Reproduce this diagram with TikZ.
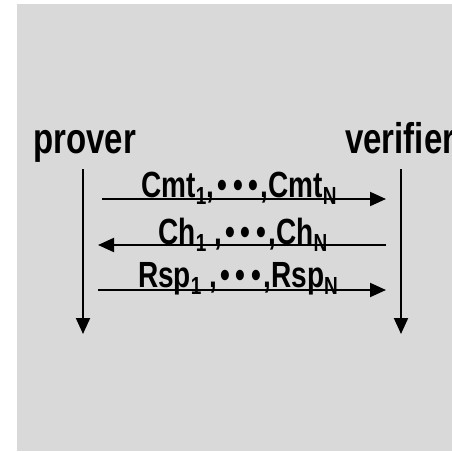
\documentclass[tikz,border=0pt]{standalone}
\usepackage{fontspec}
\setmainfont{Liberation Sans}
\usetikzlibrary{arrows.meta}

\newcommand{\tall}[1]{\scalebox{1}[1.3]{#1}}
\newcommand{\subs}[1]{\raisebox{-6pt}{\fontsize{19}{19}\selectfont #1}}
\newcommand{\tridots}{\hspace{3pt}•\hspace{6pt}•\hspace{6pt}•\hspace{2pt}}

\begin{document}
\begin{tikzpicture}[x=1pt, y=1pt,
  party/.style={anchor=base west, inner sep=0pt, font=\fontsize{33}{33}\selectfont\bfseries},
  msglabel/.style={anchor=base, inner sep=0pt, font=\fontsize{28}{28}\selectfont\bfseries},
  msg/.style={line width=2pt, -{Triangle[length=16pt, width=14pt]}}]

\useasboundingbox (0, 0) rectangle (452, 451);
\clip (0, 0) rectangle (452, 451);
\fill [gray!30] (17, 0) rectangle (452, 447);

\node [party] (prover) at (33, 298) {\tall{prover}};
\node [party] (verifier) at (345, 298) {\tall{verifier}};

% life lines
\coordinate (p top) at (83, 282);
\coordinate (p bot) at (83, 117);
\coordinate (v top) at (401, 282);
\coordinate (v bot) at (401, 117);
\draw [msg] (p top)--(p bot);
\draw [msg] (v top)--(v bot);

% messages
\coordinate (p1) at (102, 252);
\coordinate (v1) at (386, 252);
\coordinate (v2) at (386, 206);
\coordinate (p2) at (98, 206);
\coordinate (p3) at (98, 161);
\coordinate (v3) at (386, 161);
\draw [msg] (p1)--(v1);
\draw [msg] (v2)--(p2);
\draw [msg] (p3)--(v3);

\node [msglabel] (cmt) at (239, 254) {\tall{Cmt\subs{1},\tridots,Cmt\subs{N}}};
\node [msglabel] (ch) at (243, 207) {\tall{Ch\subs{1} ,\tridots,Ch\subs{N}}};
\node [msglabel] (rsp) at (238, 164) {\tall{Rsp\subs{1} ,\tridots,Rsp\subs{N}}};
\end{tikzpicture}
\end{document}
